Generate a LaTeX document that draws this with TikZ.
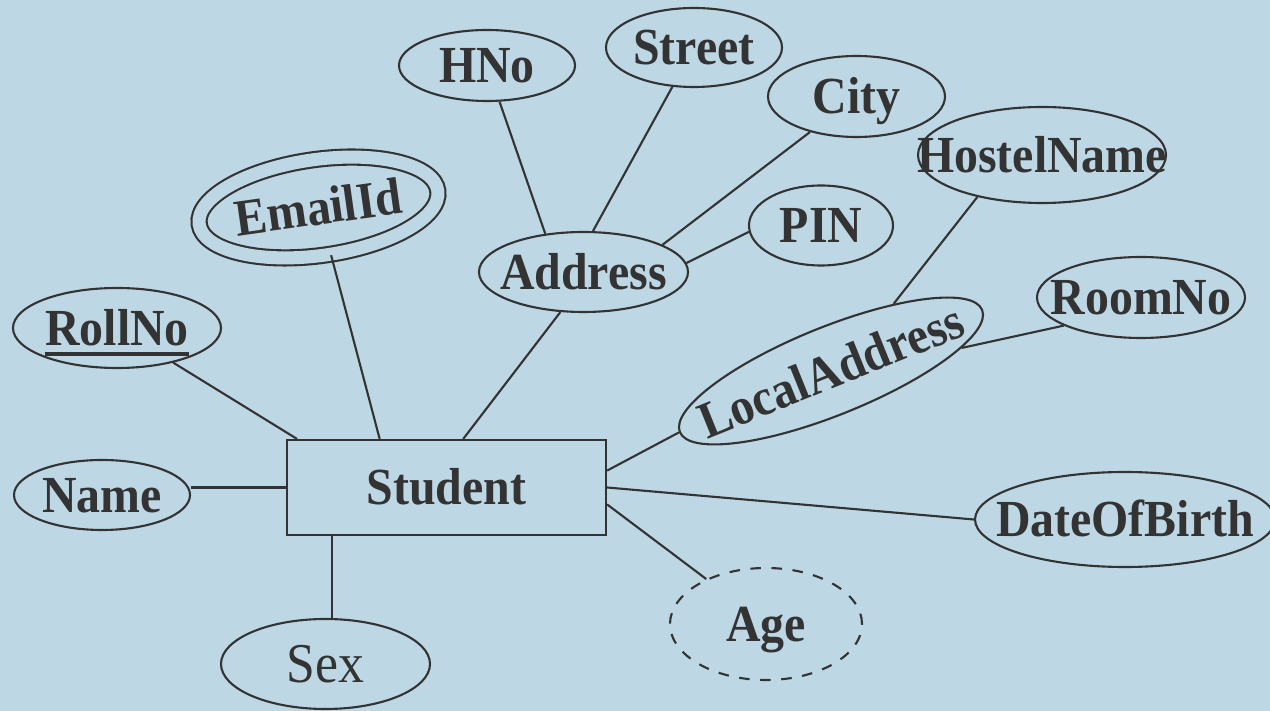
\documentclass[tikz,border=0pt]{standalone}
\usepackage{fontspec}
\setmainfont{Liberation Serif}[FakeStretch=0.92]
\usetikzlibrary{shapes.geometric}
\definecolor{bgblue}{HTML}{BED7E4}
\definecolor{ink}{HTML}{333333}
\newcommand{\keyattr}[1]{\setbox0\hbox{#1}\rlap{\rule[-0.11cm]{\wd0}{0.04cm}}\box0}

\begin{document}
\begin{tikzpicture}[font=\fontsize{14.8}{17}\selectfont\bfseries,color=ink,line width=0.6pt,
    every node/.style={text height=9.8pt,text depth=0pt},
    attr/.style={ellipse,draw,inner sep=0pt},
    entity/.style={rectangle,draw,inner sep=0pt}]
    \fill[bgblue] (0,0) rectangle (12.7,-7.11);
    \clip (0,0) rectangle (12.7,-7.11);
    \node[entity,minimum width=3.19cm,minimum height=0.95cm] (student) at (4.465,-4.875) {Student};
    \node[attr,minimum width=1.76cm,minimum height=0.70cm,label=center:Name]    (name)    at (1.02,-4.95)  {};
    \node[attr,minimum width=2.08cm,minimum height=0.80cm,label=center:\keyattr{RollNo}] (rollno) at (1.17,-3.28) {};
    \node[attr,minimum width=2.41cm,minimum height=0.96cm,rotate=8,double=bgblue,double distance=0.13cm] (email) at (3.185,-2.075) {};
    \node[rotate=8] at (email) {EmailId};
    \node[attr,minimum width=2.09cm,minimum height=0.90cm,label={[font=\fontsize{16}{19}\selectfont,text height=10.6pt]center:Sex}] (sex) at (3.255,-6.64) {};
    \node[attr,minimum width=2.09cm,minimum height=0.80cm,label=center:Address] (address) at (5.835,-2.72)  {};
    \node[attr,minimum width=1.76cm,minimum height=0.71cm,label=center:HNo]     (hno)     at (4.87,-0.655) {};
    \node[attr,minimum width=1.76cm,minimum height=0.79cm,label=center:Street]  (street)  at (6.94,-0.475) {};
    \node[attr,minimum width=1.77cm,minimum height=0.81cm,label=center:City]    (city)    at (8.565,-0.965) {};
    \node[attr,minimum width=1.44cm,minimum height=0.80cm,label=center:PIN]     (pin)     at (8.21,-2.255) {};
    \node[attr,minimum width=2.48cm,minimum height=0.96cm,label=center:HostelName] (hostel) at (10.42,-1.55) {};
    \node[attr,minimum width=3.26cm,minimum height=0.88cm,rotate=22] (local) at (8.31,-3.71) {};
    \node[rotate=22] at (local) {LocalAddress};
    \node[attr,minimum width=2.08cm,minimum height=0.81cm,label=center:RoomNo]  (roomno)  at (11.41,-2.975) {};
    \node[attr,minimum width=3.00cm,minimum height=0.95cm,label=center:DateOfBirth] (dob) at (11.25,-5.195) {};
    \node[attr,dashed,minimum width=1.92cm,minimum height=1.12cm,label=center:Age] (age) at (7.66,-6.24) {};
    \path (rollno)      edge (student.162)
          (email)       edge (student.144)
          (address.-120) edge (student.71)
          (student.west -| name.east) edge (student.west)
          (student.-157) edge (student.-157 |- sex.north)
          (local.west)  edge (student.6)
          (dob.west)    edge (student.east)
          (age)         edge (student.-6)
          (hno)         edge (address.135)
          (street)      edge (address.77)
          (city)        edge (address.19)
          (pin.185)     edge (address.5)
          (hostel.-147) edge (local.25)
          (roomno.200)  edge (local.-12)
          ;
\end{tikzpicture}
\end{document}
